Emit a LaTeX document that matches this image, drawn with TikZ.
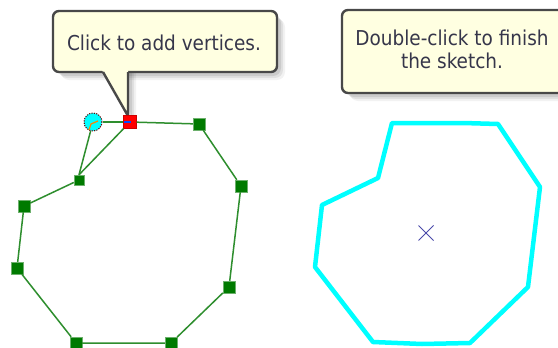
\documentclass[tikz,border=0pt]{standalone}
\usepackage{fontspec}
\newfontfamily\tipfont{DejaVu Sans Condensed}
\usetikzlibrary{shapes.misc}
\definecolor{tipfill}{HTML}{FFFFE1}
\definecolor{tipedge}{HTML}{484848}
\definecolor{tiptext}{HTML}{36364A}
\definecolor{vgreen}{HTML}{007A00}
\definecolor{lgreen}{HTML}{2E8E2E}
\definecolor{skcyan}{HTML}{00FFFF}
\definecolor{xblue}{HTML}{4A4AAA}
\definecolor{vred}{HTML}{FF0000}
\tikzset{
  tipbox/.style={fill=tipfill, draw=tipedge, line width=2.4pt, rounded corners=6pt},
  tiplabel/.style={font=\tipfont\fontsize{20.5}{22.5}\selectfont, text=tiptext, inner sep=0pt, anchor=base},
  vert/.style={rectangle, fill=vgreen, draw=lgreen!70!white, line width=0.4pt, minimum size=12pt, inner sep=0pt},
  smallvert/.style={vert, minimum size=10pt},
  edge/.style={lgreen, line width=1.5pt},
  sketch/.style={skcyan, line width=4.5pt, line join=round},
}
\begin{document}
\begin{tikzpicture}[x=1pt,y=-1pt]
\useasboundingbox (0,0) rectangle (558,348);
\clip (0,0) rectangle (558,348);
\fill[white] (0,0) rectangle (558,348);

% ---------- shadows ----------
\foreach \d/\op in {8/0.05,6/0.07,4/0.09}{
  \fill[black, opacity=\op, rounded corners=8pt] (53+\d,11+\d) rectangle (277+\d,72+\d);
  \fill[black, opacity=\op] (103+\d,72) -- (128+\d,116+\d) -- (128+\d,72) -- cycle;
  \fill[black, opacity=\op, rounded corners=8pt] (342+\d,10+\d) rectangle (565+\d,93+\d);
}

% ---------- callout 1 ----------
\draw[tipbox] (53,11) rectangle (277,72);
\fill[tipfill] (101,68) -- (103,72) -- (128,116) -- (128,72) -- (128,68) -- cycle;
\draw[tipedge, line width=2.4pt, line join=miter] (103,72) -- (128,116) -- (128,72);
\node[tiplabel] (tipA) at (164,50) {Click to add vertices.};

% ---------- callout 2 ----------
\draw[tipbox] (342,10) rectangle (565,93);
\node[tiplabel] (tipB1) at (452,45.5) {Double-click to finish};
\node[tiplabel] (tipB2) at (452,68) {the sketch.};

% ---------- left sketch (in progress) ----------
\node[circle, fill=skcyan, draw=black!60!red, dashed, dash pattern=on 1.2pt off 1.2pt, line width=1pt, minimum size=18pt, inner sep=0pt] (v0) at (93,122) {};
\node[vert, fill=vred, draw=red!80!black, minimum size=13pt] (vR) at (130,122) {};
\node[vert] (v1) at (199,124) {};
\node[vert] (v2) at (241,186) {};
\node[vert] (v3) at (229,287) {};
\node[vert] (v4) at (171,343) {};
\node[vert] (v5) at (76,343) {};
\node[vert] (v6) at (17,268) {};
\node[vert] (v7) at (24,206) {};
\node[smallvert] (v8) at (79,180) {};

\draw[edge] (vR) -- (v1) -- (v2) -- (v3) -- (v4) -- (v5) -- (v6) -- (v7) -- (v8);
\draw[edge] (v8.north) -- (v0);
\draw[edge] (v8.north) -- (vR);
\draw[edge] (v0) -- (vR);
\draw[orange, line width=1.2pt] (98,121) -- (91,124) -- (89,130);
\draw[blue!70!cyan, line width=1.5pt] (124,122) -- (131,122);

% ---------- right sketch (finished) ----------
\coordinate (c1) at (392,123);
\coordinate (c2) at (463,123);
\coordinate (c3) at (498,124);
\coordinate (c4) at (540,187);
\coordinate (c5) at (528,287);
\coordinate (c6) at (470,343);
\coordinate (c7) at (422,344);
\coordinate (c8) at (373,342);
\coordinate (c9) at (315,267);
\coordinate (c10) at (322,205);
\coordinate (c11) at (378,178);
\draw[sketch] (c1) -- (c2) -- (c3) -- (c4) -- (c5) -- (c6) -- (c7) -- (c8) -- (c9) -- (c10) -- (c11) -- cycle;
\node[cross out, draw=xblue, line width=1pt, minimum size=14pt, inner sep=0pt] (ctr) at (426,233) {};
\end{tikzpicture}
\end{document}
